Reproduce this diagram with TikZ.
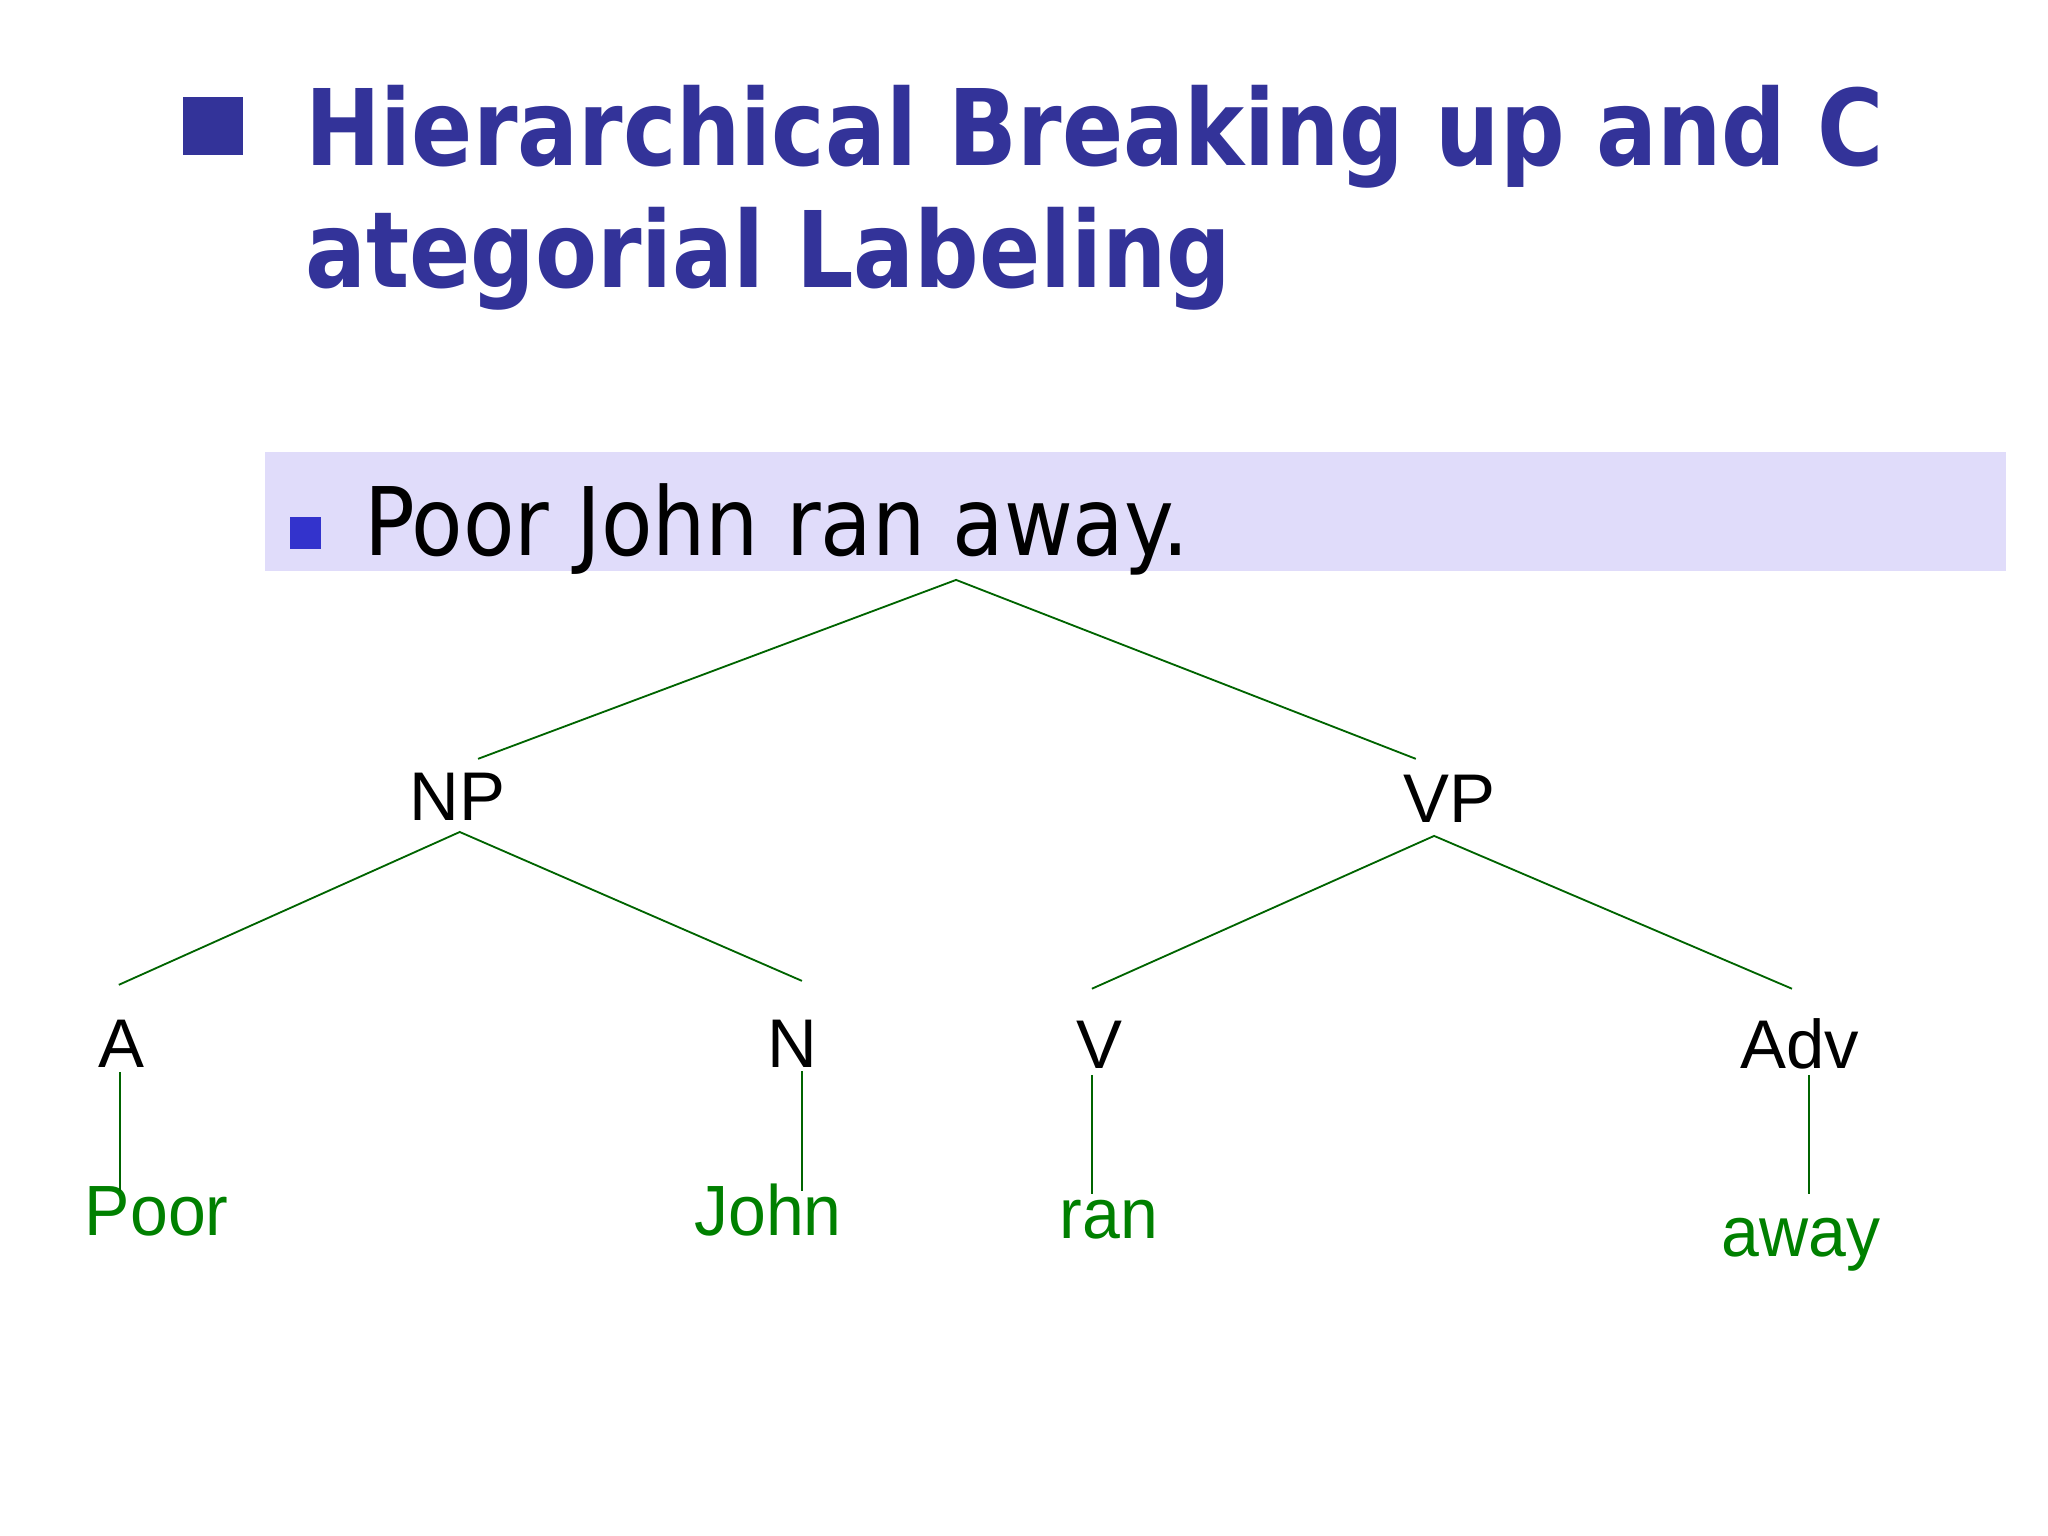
\documentclass[tikz,border=0pt]{standalone}
\usepackage{fontspec}
\setmainfont{Liberation Sans}
\newfontfamily\headfont[FakeStretch=0.855]{DejaVu Sans}
\newfontfamily\sentfont[FakeStretch=0.89]{DejaVu Sans}
\newfontfamily\wordfont[FakeStretch=0.955]{Liberation Sans}

\definecolor{titleblue}{RGB}{51,51,153}
\definecolor{bandlilac}{RGB}{224,220,250}
\definecolor{bulletblue}{RGB}{51,51,204}
\definecolor{wordgreen}{RGB}{0,128,0}
\definecolor{branchgreen}{RGB}{0,100,0}

\begin{document}
\begin{tikzpicture}[x=0.01cm, y=-0.01cm,
	cat/.style={font=\fontsize{15}{18}\selectfont, anchor=base, inner sep=0},
	word/.style={cat, text=wordgreen, font=\wordfont\fontsize{15.5}{18}\selectfont},
	branch/.style={draw=branchgreen, line width=0.4pt}]
	\useasboundingbox (0,0) rectangle (1568,1176);

	% heading
	\fill[titleblue] (140,74) rectangle (186,119);
	\node[anchor=base west, inner sep=0, text=titleblue, font=\headfont\bfseries\fontsize{23}{28}\selectfont] (head1) at (233,127) {Hierarchical Breaking up and C};
	\node[anchor=base west, inner sep=0, text=titleblue, font=\headfont\bfseries\fontsize{23}{28}\selectfont] (head2) at (233,220) {ategorial Labeling};

	% sentence band
	\fill[bandlilac] (203,346) rectangle (1536,437);
	\fill[bulletblue] (222,396) rectangle (246,420);
	\node[anchor=base west, inner sep=0, font=\sentfont\fontsize{20.6}{25}\selectfont] (sent) at (278,425) {Poor John ran away.};

	% categories
	\node[cat] (NP) at (350,628) {NP};
	\node[cat] (VP) at (1110,630) {VP};
	\node[cat] (A) at (93,817) {A};
	\node[cat] (N) at (607,817) {N};
	\node[cat] (V) at (842,818) {V};
	\node[cat] (Adv) at (1378,818) {Adv};

	% words
	\node[word] (poor) at (120,946) {Poor};
	\node[word] (john) at (588,946) {John};
	\node[word] (ran) at (849,948) {ran};
	\node[word] (away) at (1379,962) {away};

	% branch ends
	\coordinate (s) at (732,444);
	\coordinate (np up) at (366,581);
	\coordinate (vp up) at (1084,581);
	\coordinate (np down) at (352,637);
	\coordinate (vp down) at (1098,640);
	\coordinate (a up) at (91,754);
	\coordinate (n up) at (614,751);
	\coordinate (v up) at (836,757);
	\coordinate (adv up) at (1372,757);
	\coordinate (a down) at (92,821);
	\coordinate (n down) at (614,820);
	\coordinate (v down) at (836,823);
	\coordinate (adv down) at (1385,823);
	\coordinate (poor up) at (92,912);
	\coordinate (john up) at (614,912);
	\coordinate (ran up) at (836,914);
	\coordinate (away up) at (1385,914);

	\draw[branch] (np up) -- (s) -- (vp up);
	\draw[branch] (a up) -- (np down) -- (n up);
	\draw[branch] (v up) -- (vp down) -- (adv up);
	\draw[branch] (a down) -- (poor up);
	\draw[branch] (n down) -- (john up);
	\draw[branch] (v down) -- (ran up);
	\draw[branch] (adv down) -- (away up);
\end{tikzpicture}
\end{document}
